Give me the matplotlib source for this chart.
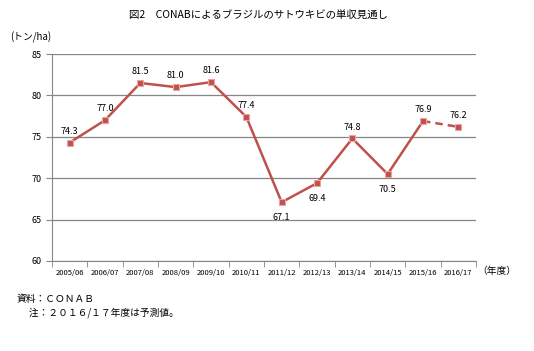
import numpy as np
import matplotlib.pyplot as plt

plt.rcParams['font.family'] = ['Noto Sans CJK JP', 'DejaVu Sans']

# data
years = ['2005/06', '2006/07', '2007/08', '2008/09', '2009/10', '2010/11',
         '2011/12', '2012/13', '2013/14', '2014/15', '2015/16', '2016/17']
yields = [74.3, 77.0, 81.5, 81.0, 81.6, 77.4, 67.1, 69.4, 74.8, 70.5, 76.9, 76.2]
below = ['2011/12', '2012/13', '2014/15']

W, H = 534, 351
fig = plt.figure(figsize=(W / 100, H / 100), dpi=100)
ax = fig.add_axes([52 / W, 1 - 261 / H, (476 - 52) / W, (261 - 54) / H])

x = np.arange(len(years))
col = '#C0504D'
n = len(years)
ax.plot(x[:n - 1], yields[:n - 1], color=col, lw=1.8, zorder=3)
ax.plot(x[n - 2:], yields[n - 2:], color=col, lw=1.8, ls=(0, (3, 2)), zorder=3)
ax.plot(x, yields, ls='none', marker='s', ms=5, mfc=col, mec='#E6A5A3', mew=0.8, zorder=4)

for xi, yi, lab in zip(x, yields, years):
    if lab in below:
        ax.annotate(f'{yi:.1f}', (xi, yi), xytext=(0, -8), textcoords='offset points',
                    ha='center', va='top', fontsize=6.5)
    else:
        ax.annotate(f'{yi:.1f}', (xi, yi), xytext=(0, 5), textcoords='offset points',
                    ha='center', va='bottom', fontsize=6.5)

ax.set_xlim(-0.5, n - 0.5)
ax.set_ylim(60, 85)
ax.set_yticks(np.arange(60, 86, 5))
ax.set_xticks(x)
ax.set_xticklabels(years, fontsize=5.5)
ax.set_xticks(np.arange(-0.5, n, 1), minor=True)
ax.tick_params(axis='x', which='major', length=0, pad=6)
ax.tick_params(axis='x', which='minor', length=4, color='#868686', direction='out')
ax.tick_params(axis='y', labelsize=6.5, length=4, color='#868686')
ax.yaxis.grid(True, color='#868686', lw=0.9)
ax.set_axisbelow(True)
for s in ['top', 'right']:
    ax.spines[s].set_visible(False)
for s in ['left', 'bottom']:
    ax.spines[s].set_color('#868686')

fig.text(258 / W, 1 - 15 / H, '図2　CONABによるブラジルのサトウキビの単収見通し',
         ha='center', va='center', fontsize=7.5)
fig.text(10 / W, 1 - 37 / H, '(トン/ha)', ha='left', va='center', fontsize=7)
fig.text(477 / W, 1 - 271 / H, '（年度）', ha='left', va='center', fontsize=7)
fig.text(17 / W, 1 - 299 / H, '資料：ＣＯＮＡＢ', ha='left', va='center', fontsize=7)
fig.text(17 / W, 1 - 313 / H, '　 注：２０１６/１７年度は予測値。', ha='left', va='center', fontsize=7)

fig.savefig('out.png', dpi=100)
